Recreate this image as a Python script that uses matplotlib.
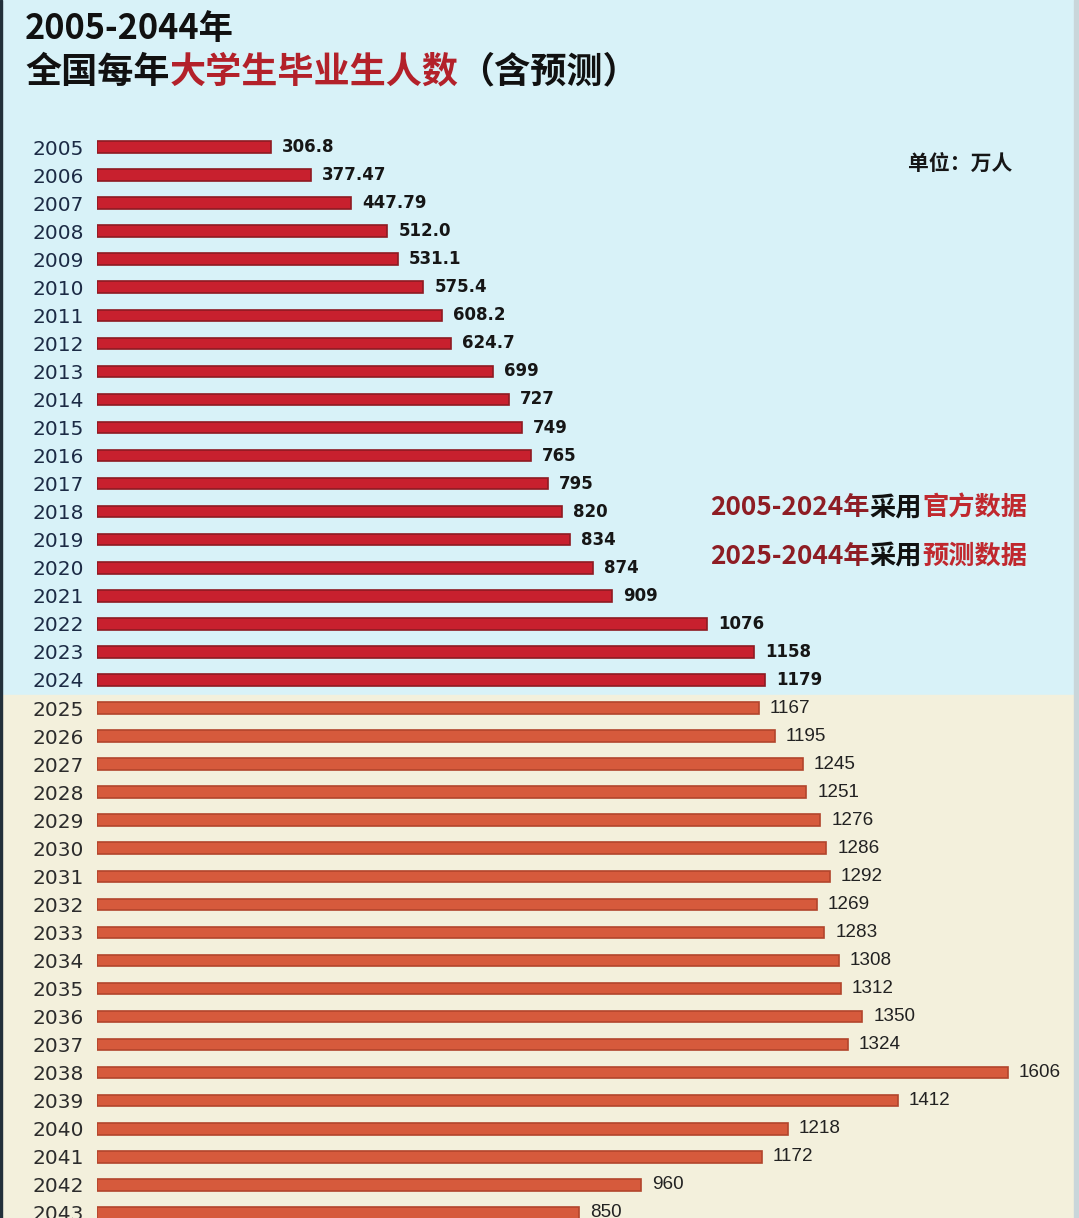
import matplotlib
matplotlib.use("Agg")
import matplotlib.pyplot as plt
from matplotlib.patches import Rectangle

# Data (unit: 万人)
years = list(range(2005, 2044))
graduates = [306.8, 377.47, 447.79, 512.0, 531.1, 575.4, 608.2, 624.7, 699, 727,
             749, 765, 795, 820, 834, 874, 909, 1076, 1158, 1179,
             1167, 1195, 1245, 1251, 1276, 1286, 1292, 1269, 1283, 1308,
             1312, 1350, 1324, 1606, 1412, 1218, 1172, 960, 850]
value_labels = ["306.8", "377.47", "447.79", "512.0", "531.1", "575.4", "608.2", "624.7",
                "699", "727", "749", "765", "795", "820", "834", "874", "909", "1076",
                "1158", "1179", "1167", "1195", "1245", "1251", "1276", "1286", "1292",
                "1269", "1283", "1308", "1312", "1350", "1324", "1606", "1412", "1218",
                "1172", "960", "850"]
last_official = 2024

W, H = 1079, 1218
fig = plt.figure(figsize=(W / 100, H / 100), dpi=100)
CJK = ["Noto Sans CJK SC", "DejaVu Sans"]

# background: light blue on top, cream for the forecast part
split = 695
fig.patches.append(Rectangle((0, 1 - split / H), 1, split / H, transform=fig.transFigure,
                             color="#d8f2f8", zorder=-10))
fig.patches.append(Rectangle((0, 0), 1, 1 - split / H, transform=fig.transFigure,
                             color="#f3f0dc", zorder=-10))
fig.patches.append(Rectangle((0, 0), 2 / W, 1, transform=fig.transFigure,
                             color="#22303a", zorder=-9))
fig.patches.append(Rectangle((1 - 5 / W, 0), 5 / W, 1, transform=fig.transFigure,
                             color="#c9d6da", zorder=-9))

# bars axes: value 0 at x=97px, 0.567 px per unit, rows 28.05 px apart starting y=147
x0, scale = 97, 0.567
row0, step = 147, 28.05
ax = fig.add_axes([x0 / W, 0, 1 - x0 / W, 1])
ax.set_facecolor("none")
ax.set_xlim(0, (W - x0) / scale)
ax.set_ylim((H - row0) / step, -row0 / step)

pos = list(range(len(years)))
colors = ["#c8202e" if y <= last_official else "#d65a3c" for y in years]
edges = ["#8e1a22" if y <= last_official else "#b2452c" for y in years]
ax.barh(pos, graduates, height=0.41, color=colors, edgecolor=edges, linewidth=1.2)

for i, (v, lab, y) in enumerate(zip(graduates, value_labels, years)):
    if y <= last_official:
        ax.annotate(lab, (v, i), xytext=(8, 0), textcoords="offset points",
                    va="center", ha="left", fontsize=12, fontweight="bold",
                    color="#161616", family="DejaVu Sans")
    else:
        ax.annotate(lab, (v, i), xytext=(8, 0), textcoords="offset points",
                    va="center", ha="left", fontsize=13.6,
                    color="#222222", family="Liberation Sans")

ax.set_yticks(pos)
ax.set_yticklabels([str(y) for y in years], fontsize=14.5, family="DejaVu Sans")
for lbl, y in zip(ax.get_yticklabels(), years):
    lbl.set_color("#1c2b45" if y <= last_official else "#2c2c2c")
ax.tick_params(axis="y", length=0, pad=9.4)
ax.set_xticks([])
for s in ax.spines.values():
    s.set_visible(False)

renderer = fig.canvas.get_renderer()


def chain(x_px, y_px, pieces, size):
    # draw coloured pieces of text one after another on one line
    x = x_px / W
    for txt, col in pieces:
        t = fig.text(x, 1 - y_px / H, txt, color=col, fontsize=size, fontweight="heavy",
                     family=CJK, va="center", ha="left")
        bb = t.get_window_extent(renderer)
        x = bb.x1 / W


chain(25, 29, [("2005-2044年", "#111111")], 24.7)
chain(25, 72, [("全国每年", "#111111"), ("大学生毕业生人数", "#b3212a"),
               ("（含预测）", "#111111")], 26)
chain(908, 163, [("单位：万人", "#161616")], 15)
chain(710, 508, [("2005-2024年", "#8e1d24"), ("采用", "#111111"),
                 ("官方数据", "#c0282e")], 18.9)
chain(710, 556, [("2025-2044年", "#8e1d24"), ("采用", "#111111"),
                 ("预测数据", "#c0282e")], 18.9)

fig.savefig("out.png", dpi=100)
